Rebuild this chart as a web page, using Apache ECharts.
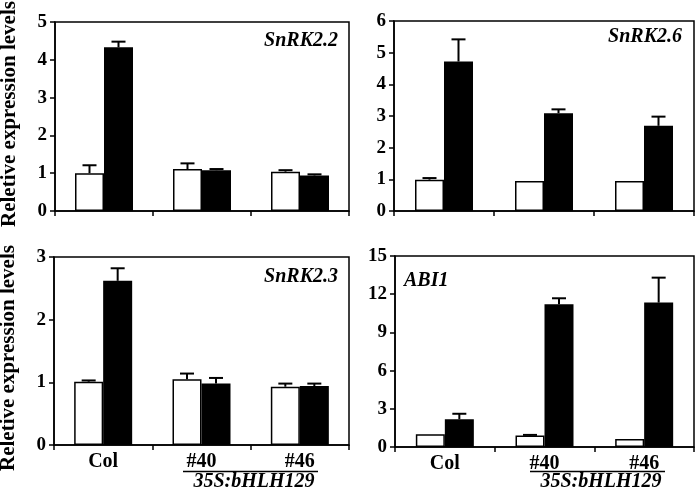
<!DOCTYPE html>
<html>
<head>
<meta charset="utf-8">
<script src="https://cdn.jsdelivr.net/npm/echarts@6/dist/echarts.min.js"></script>
<style>
html,body{margin:0;padding:0;background:#fff;}
#main{width:697px;height:493px;}
</style>
</head>
<body>
<div id="main"></div>
<script>
// ---- Data ----
const categories = ['Col', '#40', '#46'];
const genes = ['SnRK2.2', 'SnRK2.6', 'SnRK2.3', 'ABI1'];
const yMax = [5, 6, 3, 15];
const yInterval = [1, 1, 1, 3];

const snrk22White = [1.00, 1.11, 1.04];
const snrk22WhiteErr = [0.21, 0.15, 0.04];
const snrk22Black = [4.33, 1.08, 0.94];
const snrk22BlackErr = [0.15, 0.03, 0.03];

const snrk26White = [0.99, 0.95, 0.95];
const snrk26WhiteErr = [0.05, 0, 0];
const snrk26Black = [4.72, 3.09, 2.69];
const snrk26BlackErr = [0.70, 0.12, 0.29];

const snrk23White = [1.01, 1.05, 0.93];
const snrk23WhiteErr = [0.02, 0.09, 0.05];
const snrk23Black = [2.62, 0.98, 0.94];
const snrk23BlackErr = [0.20, 0.09, 0.04];

const abi1White = [1.00, 0.90, 0.62];
const abi1WhiteErr = [0, 0.05, 0];
const abi1Black = [2.18, 11.21, 11.34];
const abi1BlackErr = [0.43, 0.47, 1.96];

const panels = [
  {white: snrk22White, whiteErr: snrk22WhiteErr, black: snrk22Black, blackErr: snrk22BlackErr},
  {white: snrk26White, whiteErr: snrk26WhiteErr, black: snrk26Black, blackErr: snrk26BlackErr},
  {white: snrk23White, whiteErr: snrk23WhiteErr, black: snrk23Black, blackErr: snrk23BlackErr},
  {white: abi1White, whiteErr: abi1WhiteErr, black: abi1Black, blackErr: abi1BlackErr}
];

// ---- Layout / style ----
const FONT = '"Liberation Serif", "Times New Roman", serif';
const BAR_W = 29;
const grids = [
  {left: 55, top: 22, width: 294, height: 189},
  {left: 394, top: 21, width: 300, height: 190},
  {left: 54, top: 257, width: 295, height: 188},
  {left: 395, top: 256, width: 299, height: 191}
];
const titlePos = [
  {right: 359, top: 31},
  {right: 15, top: 27},
  {right: 359, top: 267},
  {left: 404, top: 271}
];
const namePadding = [[0, 0, 0, 5], null, [0, 14, 0, 0], null];

const chart = echarts.init(document.getElementById('main'));

const option = {
  backgroundColor: '#fff',
  animation: false,
  title: genes.map((g, i) => Object.assign({
    text: g,
    padding: 0,
    textStyle: {fontFamily: FONT, fontStyle: 'italic', fontWeight: 'bold', fontSize: 20, color: '#000'}
  }, titlePos[i])),
  grid: grids.map(g => Object.assign({show: true, borderColor: '#000', borderWidth: 1.5, containLabel: false, outerBoundsMode: 'none'}, g)),
  xAxis: grids.map((g, i) => ({
    type: 'category',
    gridIndex: i,
    data: categories,
    axisLine: {show: true, lineStyle: {color: '#000', width: 1.5}},
    axisTick: {show: true, length: 5, lineStyle: {color: '#000', width: 1.5}},
    axisLabel: {show: i >= 2, color: '#000', fontFamily: FONT, fontWeight: 'bold', fontSize: 20, margin: 7}
  })),
  yAxis: grids.map((g, i) => ({
    type: 'value',
    gridIndex: i,
    min: 0,
    max: yMax[i],
    interval: yInterval[i],
    name: (i % 2 === 0) ? 'Reletive expression levels' : '',
    nameLocation: 'middle',
    nameGap: 35,
    nameTextStyle: Object.assign({fontFamily: FONT, fontWeight: 'bold', fontSize: 21, color: '#000'},
      namePadding[i] ? {padding: namePadding[i]} : {}),
    splitLine: {show: false},
    axisLine: {show: true, lineStyle: {color: '#000', width: 1.5}},
    axisTick: {show: true, length: 5, lineStyle: {color: '#000', width: 1.5}},
    axisLabel: {color: '#000', fontFamily: FONT, fontWeight: 'bold', fontSize: 19, margin: 8}
  })),
  series: [],
  graphic: []
};

function errRender(params, api) {
  const cat = api.value(0), v = api.value(1), top = api.value(2), side = api.value(3);
  if (top - v <= 0.0001) return null;
  const p0 = api.coord([cat, v]);
  const p1 = api.coord([cat, top]);
  const x = p0[0] + side * BAR_W / 2;
  return {
    type: 'group',
    children: [
      {type: 'line', shape: {x1: x, y1: p0[1], x2: x, y2: p1[1]}, style: {stroke: '#000', lineWidth: 2}},
      {type: 'line', shape: {x1: x - 7, y1: p1[1], x2: x + 7, y2: p1[1]}, style: {stroke: '#000', lineWidth: 2}}
    ]
  };
}

panels.forEach((p, i) => {
  option.series.push({
    type: 'bar', xAxisIndex: i, yAxisIndex: i, data: p.white,
    barWidth: BAR_W, barGap: '0%',
    itemStyle: {color: '#fff', borderColor: '#000', borderWidth: 1.5}, z: 2
  });
  option.series.push({
    type: 'bar', xAxisIndex: i, yAxisIndex: i, data: p.black,
    barWidth: BAR_W, barGap: '0%',
    itemStyle: {color: '#000', borderColor: '#000', borderWidth: 1.5}, z: 2
  });
  option.series.push({
    type: 'custom', xAxisIndex: i, yAxisIndex: i, renderItem: errRender, z: 3,
    data: p.white.map((v, k) => [k, v, v + p.whiteErr[k], -1])
  });
  option.series.push({
    type: 'custom', xAxisIndex: i, yAxisIndex: i, renderItem: errRender, z: 3,
    data: p.black.map((v, k) => [k, v, v + p.blackErr[k], 1])
  });
});

// transgenic line bracket and label under bottom panels
[[183, 318, 254], [530, 665, 601]].forEach(([x1, x2, cx]) => {
  option.graphic.push({type: 'line', shape: {x1: x1, y1: 471.5, x2: x2, y2: 471.5}, style: {stroke: '#000', lineWidth: 1.5}});
  option.graphic.push({type: 'text', x: cx, y: 482, style: {text: '35S:bHLH129', fontFamily: FONT, fontStyle: 'italic', fontWeight: 'bold', fontSize: 20, fill: '#000', align: 'center', verticalAlign: 'middle'}});
});

chart.setOption(option);
</script>
</body>
</html>
